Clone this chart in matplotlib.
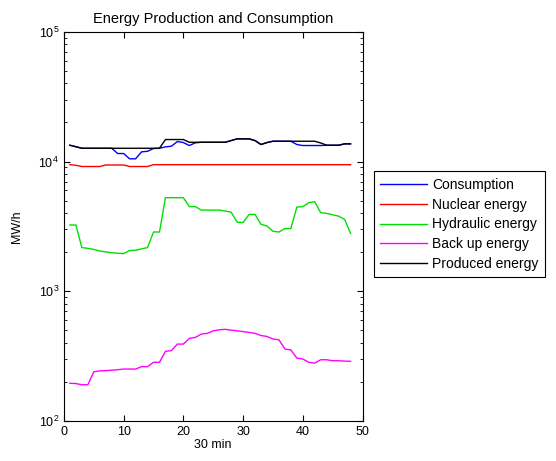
import numpy as np
import matplotlib
matplotlib.use("Agg")
import matplotlib.pyplot as plt

plt.rcParams['font.family'] = ['Liberation Sans', 'DejaVu Sans']

# half-hour steps
steps = np.arange(1, 49)

consumption = [13350, 13000, 12650, 12650, 12650, 12650, 12650, 12650,
               11520, 11520, 10490, 10490, 11870, 11990, 12590, 12650,
               12970, 13120, 14250, 14000, 13280, 13930, 14070, 14070,
               14070, 14070, 14070, 14500, 14950, 14950, 14950, 14500,
               13520, 14000, 14330, 14330, 14330, 14330, 13520, 13280,
               13280, 13280, 13280, 13350, 13350, 13350, 13680, 13680]
nuclear = [9450, 9350, 9150, 9150, 9150, 9150, 9400, 9400,
           9400, 9400, 9150, 9150, 9150, 9150, 9450, 9450,
           9450, 9450, 9450, 9450, 9450, 9450, 9450, 9450,
           9450, 9450, 9450, 9450, 9450, 9450, 9450, 9450,
           9450, 9450, 9450, 9450, 9450, 9450, 9450, 9450,
           9450, 9450, 9450, 9450, 9450, 9450, 9450, 9450]
hydraulic = [3240, 3240, 2170, 2140, 2100, 2040, 2010, 1980,
             1960, 1950, 2060, 2070, 2120, 2170, 2860, 2860,
             5260, 5260, 5260, 5260, 4490, 4490, 4220, 4220,
             4220, 4220, 4150, 4070, 3410, 3380, 3910, 3910,
             3280, 3180, 2900, 2860, 3040, 3040, 4450, 4490,
             4810, 4900, 4030, 3980, 3880, 3790, 3580, 2790]
backup = [195, 194, 190, 190, 239, 243, 244, 246,
          248, 251, 251, 251, 262, 262, 283, 283,
          344, 348, 391, 391, 433, 440, 467, 473,
          495, 504, 508, 501, 495, 488, 481, 473,
          455, 448, 428, 422, 358, 352, 305, 300,
          283, 279, 296, 296, 291, 291, 289, 288]
produced = [13350, 13000, 12650, 12650, 12650, 12650, 12650, 12650,
            12650, 12650, 12650, 12650, 12650, 12650, 12650, 12650,
            14770, 14770, 14770, 14770, 14070, 14070, 14070, 14070,
            14070, 14070, 14070, 14500, 14950, 14950, 14950, 14500,
            13520, 14000, 14330, 14330, 14330, 14330, 14330, 14330,
            14330, 14330, 13900, 13350, 13350, 13350, 13680, 13680]

fig = plt.figure(figsize=(5.56, 4.61), dpi=100)
ax = fig.add_axes([0.115, 0.087, 0.537, 0.844])

ax.semilogy(steps, consumption, color='#0000ff', lw=1, label='Consumption')
ax.semilogy(steps, nuclear, color='#ff0000', lw=1, label='Nuclear energy')
ax.semilogy(steps, hydraulic, color='#00e000', lw=1, label='Hydraulic energy')
ax.semilogy(steps, backup, color='#ff00ff', lw=1, label='Back up energy')
ax.semilogy(steps, produced, color='#000000', lw=1, label='Produced energy')

ax.set_xlim(0, 50)
ax.set_ylim(1e2, 1e5)
ax.set_xticks([0, 10, 20, 30, 40, 50])
ax.tick_params(which='both', direction='in', top=True, right=True, labelsize=9)
ax.tick_params(which='major', length=4)
ax.tick_params(which='minor', length=2)
for s in ax.spines.values():
    s.set_linewidth(0.8)

ax.set_title('Energy Production and Consumption', fontsize=10.5, pad=6)
ax.set_xlabel('30 min', fontsize=9, labelpad=1)
ax.set_ylabel('MW/h', fontsize=9, labelpad=11)

leg = ax.legend(loc='upper left', bbox_to_anchor=(0.672, 0.628),
                bbox_transform=fig.transFigure, borderaxespad=0,
                fancybox=False, framealpha=1, edgecolor='black',
                fontsize=10, handlelength=3.4, handletextpad=0.36,
                labelspacing=0.42, borderpad=0.45)
leg.get_frame().set_linewidth(0.8)

fig.savefig('out.png', dpi=100)
